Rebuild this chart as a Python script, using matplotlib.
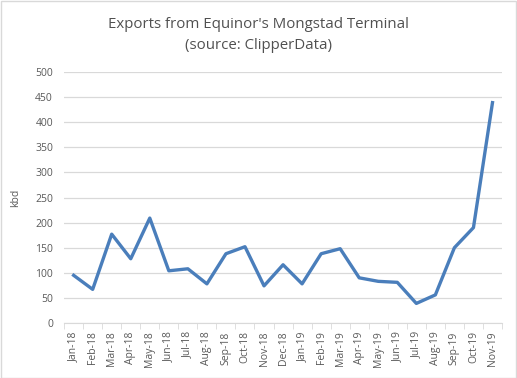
import matplotlib.pyplot as plt
import numpy as np

months = ["Jan-18", "Feb-18", "Mar-18", "Apr-18", "May-18", "Jun-18", "Jul-18",
          "Aug-18", "Sep-18", "Oct-18", "Nov-18", "Dec-18", "Jan-19", "Feb-19",
          "Mar-19", "Apr-19", "May-19", "Jun-19", "Jul-19", "Aug-19", "Sep-19",
          "Oct-19", "Nov-19"]
exports = [95, 67, 177, 128, 209, 104, 108, 78, 138, 152, 74, 116, 78, 138,
           148, 90, 83, 81, 39, 56, 150, 190, 439]

plt.rcParams['font.family'] = ['Open Sans', 'DejaVu Sans']

fig = plt.figure(figsize=(5.17, 3.78), dpi=100)
ax = fig.add_axes([0.124, 0.1455, 0.847, 0.664])

x = np.arange(len(months))
ax.plot(x, exports, color="#4a7ebb", linewidth=2.4, solid_joinstyle="round")

ax.set_xlim(-0.5, len(months) - 0.5)
ax.set_ylim(0, 500)
ax.set_yticks(range(0, 501, 50))
ax.set_xticks(x)
ax.set_xticklabels(months, rotation=90, fontsize=7.5, color="#595959")
ax.tick_params(axis="x", length=0, pad=6)
ax.set_xticks(np.arange(-0.5, len(months), 1), minor=True)
ax.tick_params(axis="x", which="minor", length=4, color="#d9d9d9")
ax.tick_params(axis="y", length=0, labelsize=7.5, labelcolor="#595959", pad=8)

ax.grid(axis="y", color="#d9d9d9", linewidth=0.9)
ax.set_axisbelow(True)
for s in ["top", "right", "left"]:
    ax.spines[s].set_visible(False)
ax.spines["bottom"].set_color("#d9d9d9")

ax.set_ylabel("kbd", fontsize=7.5, color="#595959", labelpad=10)
fig.suptitle("Exports from Equinor's Mongstad Terminal\n(source: ClipperData)",
             y=0.955, fontsize=10.8, color="#505050", linespacing=1.55)

fig.patches.append(plt.Rectangle((0.001, 0.001), 0.997, 0.997, transform=fig.transFigure,
                                 fill=False, edgecolor="#d9d9d9", linewidth=1))

fig.savefig("out.png", dpi=100)
